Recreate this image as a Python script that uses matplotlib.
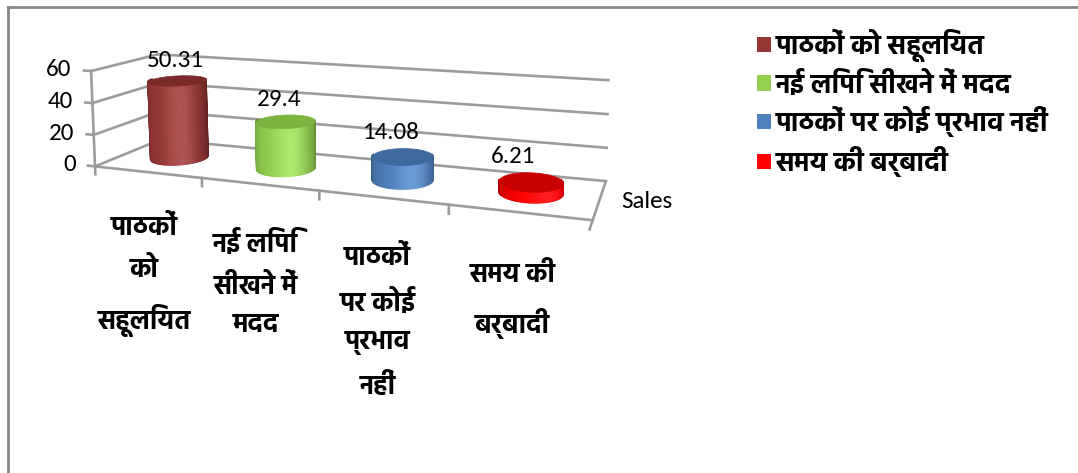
import matplotlib
matplotlib.use("Agg")
import numpy as np
import matplotlib.pyplot as plt
from matplotlib import font_manager
from matplotlib.lines import Line2D
from matplotlib.patches import Patch
from mpl_toolkits.mplot3d.art3d import Poly3DCollection
from mpl_toolkits.mplot3d import proj3d
import matplotlib.colors as mcolors

# ---------------- data ----------------
categories = ["पाठकों\nको\nसहूलियत", "नई लिपि\nसीखने में\nमदद",
              "पाठकों\nपर कोई\nप्रभाव\nनहीं", "समय की\nबर्बादी"]
legend_labels = ["पाठकों को सहूलियत", "नई लिपि सीखने में मदद",
                 "पाठकों पर कोई प्रभाव नहीं", "समय की बर्बादी"]
values = [50.31, 29.4, 14.08, 6.21]
value_labels = ["50.31", "29.4", "14.08", "6.21"]
z_ticks = [0, 20, 40, 60]
series_name = "Sales"
colors = ["#953735", "#92D050", "#4F81BD", "#FF0000"]
top_colors = ["#7A2B29", "#7DB43F", "#3E6A9E", "#C80000"]

# ---------------- fonts ----------------
names = {f.name for f in font_manager.fontManager.ttflist}
num_font = "Carlito" if "Carlito" in names else "Lato"
hin_font = ["Hind", "DejaVu Sans"]

W, H = 1078, 473
fig = plt.figure(figsize=(W / 100, H / 100), dpi=100, facecolor="white")

# camera / box (Excel-like perspective, look-at point up and to the right)
AZIM, ELEV, FOCAL = -71.8, 6.1, 0.207
XMAX, ZMAX, DEPTH, HZ = 5.185, 200.0, 0.901, 0.789
ncat = len(categories)

ax = fig.add_axes([0.1, 0.1, 0.5, 0.5 * W / H], projection="3d",
                  proj_type="persp", focal_length=FOCAL)
ax.set_axis_off()
ax.patch.set_visible(False)
ax.computed_zorder = False
ax.view_init(elev=ELEV, azim=AZIM)
ax.set_xlim(0, XMAX)
ax.set_ylim(0, 1)
ax.set_zlim(0, ZMAX)
ax.set_box_aspect((XMAX, DEPTH, HZ * ZMAX / 60.0))

gc = "#9c9c9c"
glw = 1.9
zmax_t = max(z_ticks)
for z in z_ticks:
    ax.plot([0, ncat], [1, 1], [z, z], color=gc, lw=glw, zorder=1, clip_on=False)
    ax.plot([0, 0], [0, 1], [z, z], color=gc, lw=glw, zorder=1, clip_on=False)
    ax.plot([-0.07, 0], [0, 0], [z, z], color=gc, lw=glw, zorder=1, clip_on=False)
ax.plot([0, 0], [0, 0], [0, zmax_t], color=gc, lw=glw, zorder=1, clip_on=False)
ax.plot([0, ncat], [0, 0], [0, 0], color=gc, lw=glw, zorder=1, clip_on=False)
ax.plot([ncat, ncat], [-0.2, 1], [0, 0], color=gc, lw=glw, zorder=1, clip_on=False)
for i in range(ncat):
    ax.plot([i, i], [0, 0], [0, -5], color=gc, lw=glw, zorder=1, clip_on=False)

# ---------------- cylinders ----------------
rx = 0.235
ry = rx / DEPTH
n = 90
th = np.linspace(0, 2 * np.pi, n + 1)
cam = np.deg2rad(AZIM)
for i, (v, c, tc) in enumerate(zip(values, colors, top_colors)):
    cx, cy = i + 0.5, 0.5
    base = np.array(mcolors.to_rgb(c))
    polys, fcs = [], []
    for k in range(n):
        t0, t1 = th[k], th[k + 1]
        tm = 0.5 * (t0 + t1)
        facing = np.cos(tm - cam)
        if facing < -0.25:
            continue
        x0, y0 = cx + rx * np.cos(t0), cy + ry * np.sin(t0)
        x1, y1 = cx + rx * np.cos(t1), cy + ry * np.sin(t1)
        polys.append([(x0, y0, 0), (x1, y1, 0), (x1, y1, v), (x0, y0, v)])
        hl = np.cos(tm - cam - np.deg2rad(20))
        f = 0.66 + 0.34 * max(facing, 0) ** 0.7 + 0.10 * max(hl, 0) ** 10
        col = np.clip(base * f + (1 - base) * 0.12 * max(hl, 0) ** 8, 0, 1)
        fcs.append(col)
    side = Poly3DCollection(polys, facecolors=fcs, edgecolors=fcs,
                            linewidths=1.0, zorder=3 + 2 * i)
    ax.add_collection3d(side)
    top = [(cx + rx * np.cos(t), cy + ry * np.sin(t), v) for t in th[:-1]]
    topc = Poly3DCollection([top], facecolors=tc, edgecolors=tc,
                            linewidths=0.5, zorder=4 + 2 * i)
    ax.add_collection3d(topc)

# ---------------- place the 3D axes so the box lands where Excel drew it ----
anchor3 = np.array([[0, 0, 0], [0, 0, 60], [ncat, 1, 60], [ncat, 1, 0],
                    [ncat, 0, 0]], float)
anchor_px = np.array([[93, 164], [93, 72], [607, 81], [607, 179], [593, 223]], float)
anchor_px[:, 1] = H - anchor_px[:, 1]


def to_display(pts):
    pts = np.asarray(pts, float)
    M = ax.get_proj()
    px, py, _ = proj3d.proj_transform(pts[:, 0], pts[:, 1], pts[:, 2], M)
    return ax.transData.transform(np.column_stack([px, py]))


for _ in range(2):
    fig.canvas.draw()
    pos = ax.get_position()
    c0 = np.array([(pos.x0 + pos.x1) / 2 * W, (pos.y0 + pos.y1) / 2 * H])
    side0 = pos.width * W
    cur = to_display(anchor3)
    qm, pm = cur.mean(0), anchor_px.mean(0)
    s = ((cur - qm) * (anchor_px - pm)).sum() / ((cur - qm) ** 2).sum()
    side1 = side0 * s
    c1 = s * c0 - s * qm + pm
    ax.set_position([(c1[0] - side1 / 2) / W, (c1[1] - side1 / 2) / H,
                     side1 / W, side1 / H])
fig.canvas.draw()


def text3(x, y, z, s, **kw):
    d = to_display([[x, y, z]])[0]
    fig.text(d[0] / W, d[1] / H, s, **kw)


# tick labels on the value axis
for z in z_ticks:
    text3(-0.19, 0, z, str(z), ha="right", va="center", fontsize=18,
          family=num_font)
# series name on the depth axis
text3(ncat + 0.15, 0.5, 0, series_name, ha="left", va="center",
      fontsize=18, family=num_font)
# data labels
for i, v in enumerate(values):
    text3(i + 0.5 - 0.18, 0.5 + ry, v + 2, value_labels[i], ha="center",
          va="bottom", fontsize=18, family=num_font)
# category labels
for i, lab in enumerate(categories):
    text3(i + 0.46, 0, -27.5, lab, ha="center", va="top", fontsize=19,
          fontweight="bold", family=hin_font, linespacing=1.85,
          multialignment="center")

# ---------------- legend ----------------
handles = [Patch(facecolor=c, edgecolor="none") for c in colors]
fig.legend(handles, legend_labels, loc="upper left",
           bbox_to_anchor=(757 / W, 1 - 29 / H), frameon=False,
           prop={"family": hin_font, "weight": "bold", "size": 19.5},
           handlelength=0.5, handleheight=0.5, handletextpad=0.2,
           labelspacing=0.32, borderaxespad=0, borderpad=0)

# chart-area border (top and left)
fig.add_artist(Line2D([7.5 / W, 1.0], [1 - 7.5 / H, 1 - 7.5 / H],
                      transform=fig.transFigure, color="#888888", lw=2))
fig.add_artist(Line2D([7.5 / W, 7.5 / W], [0.0, 1 - 7.5 / H],
                      transform=fig.transFigure, color="#888888", lw=2))

fig.savefig("out.png", dpi=100)
